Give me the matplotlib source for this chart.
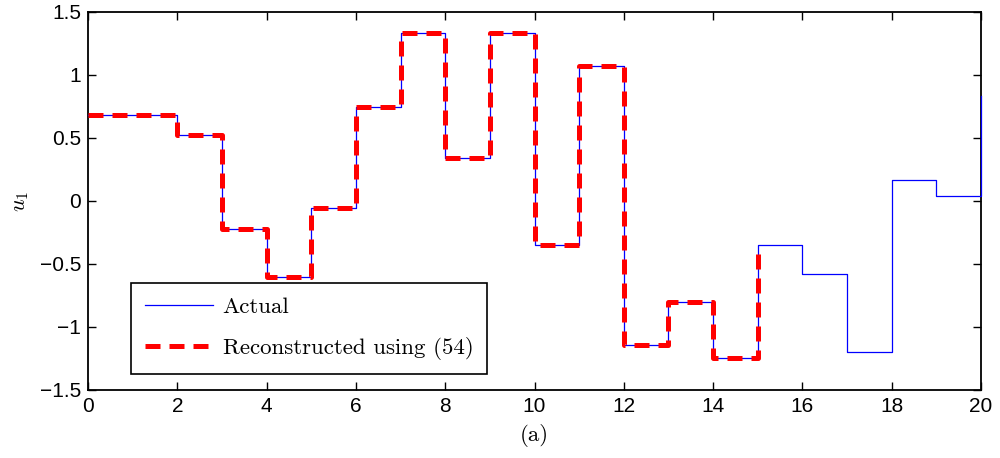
import matplotlib
matplotlib.use('Agg')
import matplotlib.pyplot as plt
import numpy as np

plt.rcParams['font.family'] = ['Liberation Sans', 'DejaVu Sans']
plt.rcParams['mathtext.fontset'] = 'cm'

# step values, one per unit interval (last value is the jump at t=20)
t_actual = np.arange(0, 21)
u_actual = [0.685, 0.685, 0.526, -0.222, -0.603, -0.053, 0.746, 1.333, 0.339, 1.333,
            -0.349, 1.069, -1.14, -0.804, -1.25, -0.347, -0.582, -1.198, 0.167, 0.04,
            0.836]

t_recon = np.arange(0, 16)
u_recon = u_actual[:16]

fig = plt.figure(figsize=(10, 4.58), dpi=100)
ax = fig.add_axes([0.088, 0.1485, 0.893, 0.8255])

ax.step(t_actual, u_actual, where='post', color='blue', lw=0.9,
        label='Actual', zorder=3, clip_on=False)
ax.step(t_recon, u_recon, where='post', color='red', lw=3.6, dashes=(3, 1.8),
        label='Reconstructed using (54)', zorder=4)

ax.set_xlim(0, 20)
ax.set_ylim(-1.5, 1.5)
ax.set_xticks(np.arange(0, 21, 2))
ax.set_yticks([-1.5, -1, -0.5, 0, 0.5, 1, 1.5])
ax.set_yticklabels(['\u22121.5', '\u22121', '\u22120.5', '0', '0.5', '1', '1.5'])
ax.tick_params(direction='in', length=6, width=1, top=True, right=True,
               labelsize=15, pad=5)
for s in ax.spines.values():
    s.set_linewidth(1.3)
    s.set_zorder(2.5)

ax.set_ylabel(r'$u_1$', fontsize=16, labelpad=6)
ax.set_xlabel('(a)', fontfamily='cmr10', fontsize=16.5, labelpad=6)

leg = ax.legend(loc='lower left', bbox_to_anchor=(0.048, 0.042),
                prop={'family': 'cmr10', 'size': 16.5}, fancybox=False,
                edgecolor='black', framealpha=1, handlelength=3.0,
                handletextpad=0.4, borderpad=0.6, labelspacing=0.9,
                borderaxespad=0)
leg.get_frame().set_linewidth(1.2)
leg.set_zorder(5)

plt.savefig('out.png', dpi=100)
